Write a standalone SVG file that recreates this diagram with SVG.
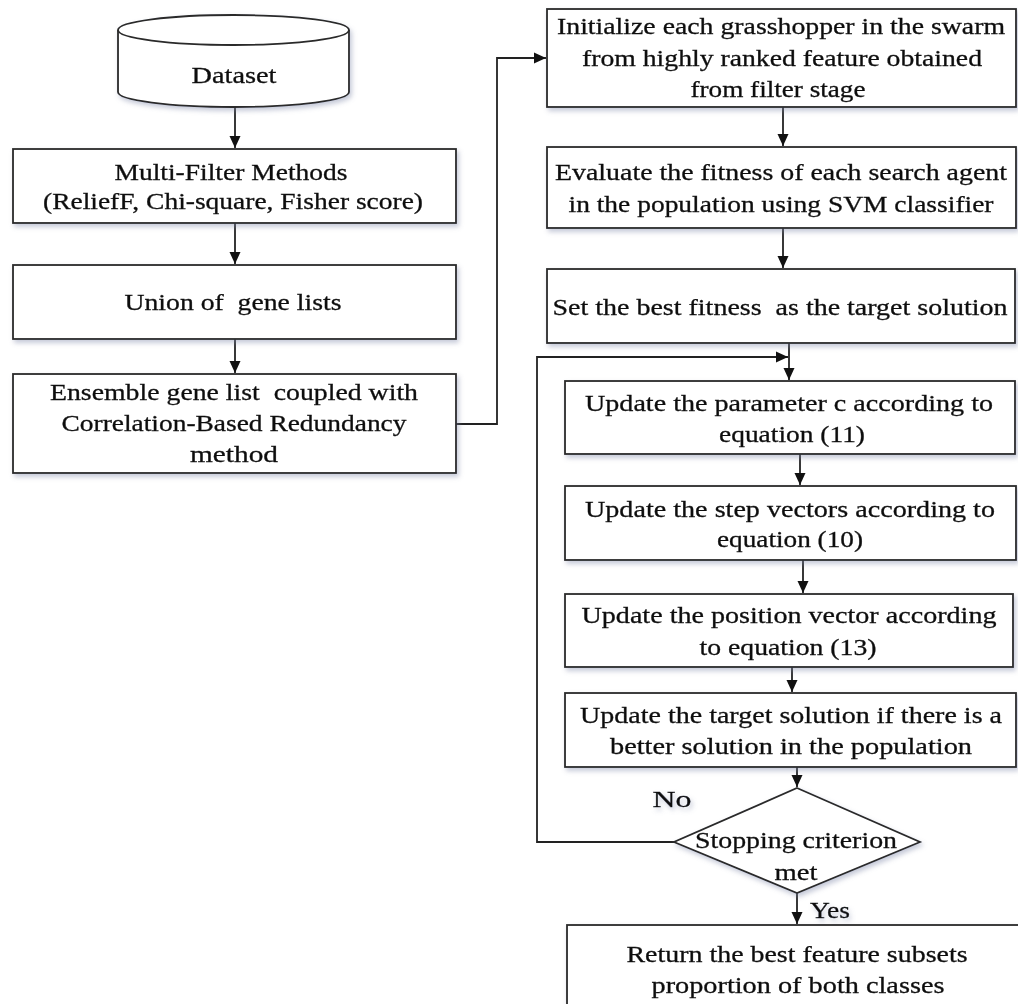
<svg xmlns="http://www.w3.org/2000/svg" width="1018" height="1004" viewBox="0 0 1018 1004">
<defs>
<style>
.box{fill:#fff;stroke:#2a2a2a;stroke-width:1.8}
.t{font-family:"Liberation Serif","Times New Roman",serif;font-size:23.5px;fill:#111;stroke:#111;stroke-width:0.3;text-anchor:middle}
.c{fill:none;stroke:#222;stroke-width:1.8}
</style>
<filter id="sh" x="-10%" y="-20%" width="130%" height="160%">
<feDropShadow dx="2" dy="3" stdDeviation="2.5" flood-color="#7f86a8" flood-opacity="0.45"/>
</filter>
<marker id="ah" markerWidth="13" markerHeight="13" refX="12" refY="6.5" orient="auto" markerUnits="userSpaceOnUse">
<path d="M0,1 L12,6.5 L0,12 Z" fill="#111"/>
</marker>
</defs>
<rect width="1018" height="1004" fill="#fff"/>

<g id="connectors">
<path class="c" d="M235,107 V148" marker-end="url(#ah)"/>
<path class="c" d="M235,223 V264" marker-end="url(#ah)"/>
<path class="c" d="M235,339 V373" marker-end="url(#ah)"/>
<path class="c" d="M456,424 H497 V58 H546" marker-end="url(#ah)"/>
<path class="c" d="M783,107 V146" marker-end="url(#ah)"/>
<path class="c" d="M783,228 V268" marker-end="url(#ah)"/>
<path class="c" d="M789,343 V380" marker-end="url(#ah)"/>
<path class="c" d="M674,842 H537 V357 H788" marker-end="url(#ah)"/>
<path class="c" d="M800,454 V485" marker-end="url(#ah)"/>
<path class="c" d="M803,560 V593" marker-end="url(#ah)"/>
<path class="c" d="M792,667 V692" marker-end="url(#ah)"/>
<path class="c" d="M797,767 V787" marker-end="url(#ah)"/>
<path class="c" d="M797,893 V924" marker-end="url(#ah)"/>
</g>

<g id="dataset" filter="url(#sh)">
<path class="box" d="M118,30 V92 A115.5,15 0 0 0 349,92 V30"/>
<ellipse class="box" cx="233.5" cy="30" rx="115.5" ry="15"/>
<text class="t" x="234" y="83" textLength="85" lengthAdjust="spacingAndGlyphs">Dataset</text>
</g>

<g id="multi-filter" filter="url(#sh)">
<rect class="box" x="13" y="149" width="443" height="74"/>
<text class="t" x="231" y="180" textLength="233" lengthAdjust="spacingAndGlyphs">Multi-Filter Methods</text>
<text class="t" x="233" y="209" textLength="380" lengthAdjust="spacingAndGlyphs">(ReliefF, Chi-square, Fisher score)</text>
</g>

<g id="union" filter="url(#sh)">
<rect class="box" x="13" y="265" width="443" height="74"/>
<text class="t" x="233" y="310" textLength="217" lengthAdjust="spacingAndGlyphs" xml:space="preserve">Union of  gene lists</text>
</g>

<g id="ensemble" filter="url(#sh)">
<rect class="box" x="13" y="374" width="443" height="99"/>
<text class="t" x="234" y="400" textLength="368" lengthAdjust="spacingAndGlyphs" xml:space="preserve">Ensemble gene list  coupled with</text>
<text class="t" x="234" y="431" textLength="345" lengthAdjust="spacingAndGlyphs">Correlation-Based Redundancy</text>
<text class="t" x="234" y="462" textLength="88" lengthAdjust="spacingAndGlyphs">method</text>
</g>

<g id="initialize" filter="url(#sh)">
<rect class="box" x="547" y="9" width="469" height="98"/>
<text class="t" x="781" y="34" textLength="448" lengthAdjust="spacingAndGlyphs">Initialize each grasshopper in the swarm</text>
<text class="t" x="782" y="66" textLength="400" lengthAdjust="spacingAndGlyphs">from highly ranked feature obtained</text>
<text class="t" x="778" y="97" textLength="175" lengthAdjust="spacingAndGlyphs">from filter stage</text>
</g>

<g id="evaluate" filter="url(#sh)">
<rect class="box" x="547" y="147" width="469" height="81"/>
<text class="t" x="781" y="180" textLength="452" lengthAdjust="spacingAndGlyphs">Evaluate the fitness of each search agent</text>
<text class="t" x="781" y="212" textLength="425" lengthAdjust="spacingAndGlyphs">in the population using SVM classifier</text>
</g>

<g id="set-best" filter="url(#sh)">
<rect class="box" x="547" y="269" width="468" height="74"/>
<text class="t" x="780" y="315" textLength="455" lengthAdjust="spacingAndGlyphs" xml:space="preserve">Set the best fitness  as the target solution</text>
</g>

<g id="update-c" filter="url(#sh)">
<rect class="box" x="565" y="381" width="450" height="73"/>
<text class="t" x="789" y="411" textLength="408" lengthAdjust="spacingAndGlyphs">Update the parameter c according to</text>
<text class="t" x="792" y="442" textLength="146" lengthAdjust="spacingAndGlyphs">equation (11)</text>
</g>

<g id="update-step" filter="url(#sh)">
<rect class="box" x="565" y="486" width="451" height="74"/>
<text class="t" x="790" y="517" textLength="410" lengthAdjust="spacingAndGlyphs">Update the step vectors according to</text>
<text class="t" x="790" y="547" textLength="146" lengthAdjust="spacingAndGlyphs">equation (10)</text>
</g>

<g id="update-position" filter="url(#sh)">
<rect class="box" x="565" y="594" width="448" height="73"/>
<text class="t" x="789" y="623" textLength="415" lengthAdjust="spacingAndGlyphs">Update the position vector according</text>
<text class="t" x="788" y="655" textLength="177" lengthAdjust="spacingAndGlyphs">to equation (13)</text>
</g>

<g id="update-target" filter="url(#sh)">
<rect class="box" x="565" y="693" width="451" height="74"/>
<text class="t" x="791" y="723" textLength="422" lengthAdjust="spacingAndGlyphs">Update the target solution if there is a</text>
<text class="t" x="791" y="754" textLength="362" lengthAdjust="spacingAndGlyphs">better solution in the population</text>
</g>

<g id="stopping" filter="url(#sh)">
<polygon class="box" points="797,788 920,842 797,893 674,842"/>
<text class="t" x="796" y="848" textLength="202" lengthAdjust="spacingAndGlyphs">Stopping criterion</text>
<text class="t" x="796" y="880" textLength="43" lengthAdjust="spacingAndGlyphs">met</text>
</g>

<g id="labels" filter="url(#sh)">
<text class="t" x="672" y="807" textLength="39" lengthAdjust="spacingAndGlyphs">No</text>
<text class="t" x="830" y="918" textLength="40" lengthAdjust="spacingAndGlyphs">Yes</text>
</g>

<g id="return" filter="url(#sh)">
<rect class="box" x="567" y="925" width="470" height="100"/>
<text class="t" x="797" y="962" textLength="341" lengthAdjust="spacingAndGlyphs">Return the best feature subsets</text>
<text class="t" x="798" y="993" textLength="293" lengthAdjust="spacingAndGlyphs">proportion of both classes</text>
</g>
</svg>
